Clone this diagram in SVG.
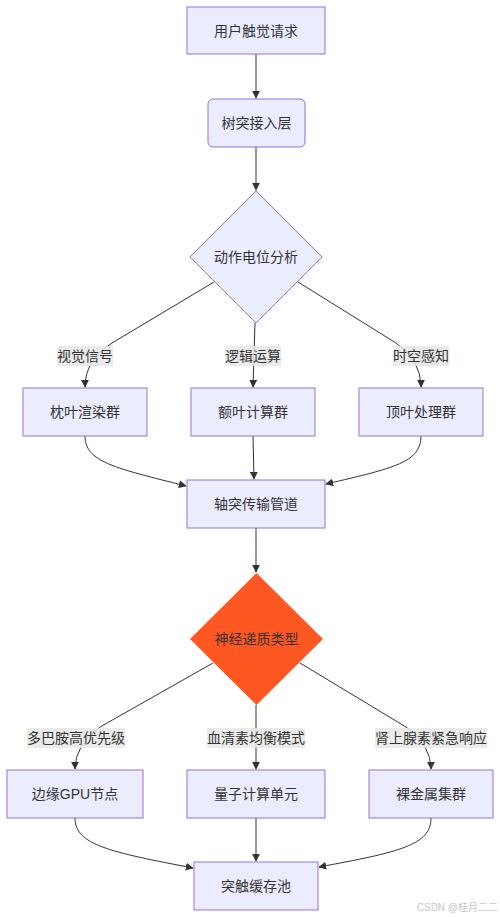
<svg xmlns="http://www.w3.org/2000/svg" width="500" height="917" viewBox="0 0 500 917">
<style>
.n{fill:#ECECFF;stroke:#9370DB;stroke-width:1}
.t{font-family:"Liberation Sans","Noto Sans CJK SC",sans-serif;font-size:14px;fill:#333;text-anchor:middle;dominant-baseline:central}
.e{fill:none;stroke:#333;stroke-width:1}
.lb{fill:#e8e8e8;opacity:0.85}
</style>
<defs>
<marker id="a" viewBox="0 0 10 10" refX="9" refY="5" markerWidth="8" markerHeight="8" markerUnits="userSpaceOnUse" orient="auto">
<path d="M0,0 L10,5 L0,10 z" fill="#333"/>
</marker>
</defs>
<rect width="500" height="917" fill="#fff"/>
<g id="edges">
<path class="e" marker-end="url(#a)" d="M256,54 L256,98"/>
<path class="e" marker-end="url(#a)" d="M256,147 L256,190"/>
<path class="e" marker-end="url(#a)" d="M214,282 L112,343 Q85,360 85,387"/>
<path class="e" marker-end="url(#a)" d="M255,323 L253,387"/>
<path class="e" marker-end="url(#a)" d="M298,282 L396,343 Q421,360 421,387"/>
<path class="e" marker-end="url(#a)" d="M85,436 C85,462 115,468 186,486"/>
<path class="e" marker-end="url(#a)" d="M253,436 L254,479"/>
<path class="e" marker-end="url(#a)" d="M421,436 C421,462 395,468 326,484"/>
<path class="e" marker-end="url(#a)" d="M256,528 L256,572"/>
<path class="e" marker-end="url(#a)" d="M213,663 L100,727 Q75,745 75,769"/>
<path class="e" marker-end="url(#a)" d="M256,705 L256,769"/>
<path class="e" marker-end="url(#a)" d="M300,663 L406,727 Q431,745 431,769"/>
<path class="e" marker-end="url(#a)" d="M75,818 C75,845 110,852 193,868"/>
<path class="e" marker-end="url(#a)" d="M256,818 L256,861"/>
<path class="e" marker-end="url(#a)" d="M431,818 C431,845 400,852 319,867"/>
</g>
<g id="edge-labels">
<rect class="lb" x="57" y="346" width="56" height="20"/><text class="t" x="85" y="356">视觉信号</text>
<rect class="lb" x="225" y="346" width="56" height="20"/><text class="t" x="253" y="356">逻辑运算</text>
<rect class="lb" x="393" y="346" width="56" height="20"/><text class="t" x="421" y="356">时空感知</text>
<rect class="lb" x="27" y="728" width="98" height="20"/><text class="t" x="76" y="738">多巴胺高优先级</text>
<rect class="lb" x="207" y="728" width="98" height="20"/><text class="t" x="256" y="738">血清素均衡模式</text>
<rect class="lb" x="375" y="728" width="112" height="20"/><text class="t" x="431" y="738">肾上腺素紧急响应</text>
</g>
<g id="n1"><rect class="n" x="187" y="7" width="138" height="47"/><text class="t" x="256" y="30.5">用户触觉请求</text></g>
<g id="n2"><rect class="n" x="208" y="99" width="97" height="48" rx="5" ry="5"/><text class="t" x="256.5" y="123">树突接入层</text></g>
<g id="d1"><polygon class="n" points="256,191 322,257 256,323 190,257"/><text class="t" x="256" y="257">动作电位分析</text></g>
<g id="n3"><rect class="n" x="23" y="388" width="124" height="48"/><text class="t" x="85" y="412">枕叶渲染群</text></g>
<g id="n4"><rect class="n" x="191" y="388" width="124" height="48"/><text class="t" x="253" y="412">额叶计算群</text></g>
<g id="n5"><rect class="n" x="359" y="388" width="124" height="48"/><text class="t" x="421" y="412">顶叶处理群</text></g>
<g id="n6"><rect class="n" x="187" y="480" width="138" height="48"/><text class="t" x="256" y="504">轴突传输管道</text></g>
<g id="d2"><polygon points="256.5,573 323,639 256.5,705 190,639" fill="#FF5722"/><text class="t" x="256.5" y="639">神经递质类型</text></g>
<g id="n7"><rect class="n" x="7" y="770" width="136" height="48"/><text class="t" x="75" y="794">边缘GPU节点</text></g>
<g id="n8"><rect class="n" x="187" y="770" width="138" height="48"/><text class="t" x="256" y="794">量子计算单元</text></g>
<g id="n9"><rect class="n" x="369" y="770" width="124" height="48"/><text class="t" x="431" y="794">裸金属集群</text></g>
<g id="n10"><rect class="n" x="194" y="862" width="124" height="48"/><text class="t" x="256" y="886">突触缓存池</text></g>
<text x="498" y="907" font-family="Liberation Sans,'Noto Sans CJK SC',sans-serif" font-size="10" fill="#c8c8c8" text-anchor="end" dominant-baseline="central">CSDN @桂月二二</text>
</svg>
